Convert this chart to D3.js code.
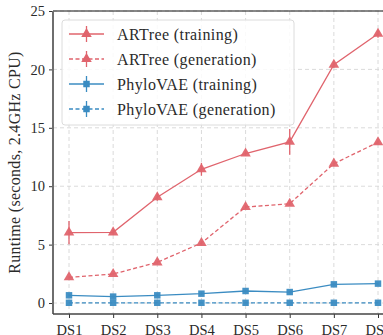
<html>
<head>
<script src="https://d3js.org/d3.v7.min.js"></script>
<style>
  body { margin: 0; background: #fff; }
  text { font-family: "Liberation Serif", "DejaVu Serif", serif; fill: #2a2a2a; }
</style>
</head>
<body>
<script>
var datasets = ["DS1", "DS2", "DS3", "DS4", "DS5", "DS6", "DS7", "DS8"];
var artreeTrain = [6.03, 6.05, 9.05, 11.45, 12.8, 13.8, 20.4, 23.05];
var artreeTrainErr = [1.0, 0.2, 0.3, 0.55, 0.2, 1.1, 0.25, 0.35];
var artreeGen = [2.2, 2.48, 3.48, 5.14, 8.22, 8.5, 11.93, 13.76];
var artreeGenErr = [0.1, 0.1, 0.1, 0.15, 0.15, 0.15, 0.2, 0.15];
var vaeTrain = [0.66, 0.55, 0.66, 0.8, 1.03, 0.94, 1.6, 1.66];
var vaeTrainErr = [0.1, 0.1, 0.1, 0.1, 0.1, 0.1, 0.1, 0.1];
var vaeGen = [0.02, 0.02, 0.02, 0.02, 0.02, 0.02, 0.02, 0.02];
var vaeGenErr = [0.02, 0.02, 0.02, 0.02, 0.02, 0.02, 0.02, 0.02];
var yTicks = [0, 5, 10, 15, 20, 25];

var red = "#e0646d", blue = "#3b8cc2";
var series = [
  {name: "ARTree (training)", v: artreeTrain, e: artreeTrainErr, c: red, dash: null, m: "tri"},
  {name: "ARTree (generation)", v: artreeGen, e: artreeGenErr, c: red, dash: "4,2.5", m: "tri"},
  {name: "PhyloVAE (training)", v: vaeTrain, e: vaeTrainErr, c: blue, dash: null, m: "sq"},
  {name: "PhyloVAE (generation)", v: vaeGen, e: vaeGenErr, c: blue, dash: "4,2.5", m: "sq"}
];

var W = 383, H = 335;
var mL = 53, mR = 394, mT = 11, mB = 314;

var svg = d3.select("body").append("svg").attr("width", W).attr("height", H);

var x = d3.scalePoint().domain(datasets).range([mL + 16, mR - 16]);
var y = d3.scaleLinear().domain([-0.94, 25]).range([mB, mT]);

// grid
svg.append("g").selectAll("line").data(datasets).enter().append("line")
  .attr("x1", d => x(d)).attr("x2", d => x(d)).attr("y1", mT).attr("y2", mB)
  .attr("stroke", "#d6d6d6").attr("stroke-dasharray", "4,3").attr("stroke-width", 0.9);
svg.append("g").selectAll("line").data(yTicks).enter().append("line")
  .attr("x1", mL).attr("x2", mR).attr("y1", d => y(d)).attr("y2", d => y(d))
  .attr("stroke", "#d6d6d6").attr("stroke-dasharray", "4,3").attr("stroke-width", 0.9);

// series
var sym = {tri: d3.symbol().type(d3.symbolTriangle).size(48), sq: d3.symbol().type(d3.symbolSquare).size(42)};
series.forEach(function(s) {
  var g = svg.append("g");
  var line = d3.line().x((d, i) => x(datasets[i])).y(d => y(d));
  g.append("path").attr("d", line(s.v)).attr("fill", "none")
    .attr("stroke", s.c).attr("stroke-width", 1.3).attr("stroke-dasharray", s.dash);
  g.selectAll(".eb").data(s.v).enter().append("line")
    .attr("x1", (d, i) => x(datasets[i])).attr("x2", (d, i) => x(datasets[i]))
    .attr("y1", (d, i) => y(d - s.e[i])).attr("y2", (d, i) => y(d + s.e[i]))
    .attr("stroke", s.c).attr("stroke-width", 1.3);
  g.selectAll(".mk").data(s.v).enter().append("path")
    .attr("d", sym[s.m])
    .attr("transform", (d, i) => "translate(" + x(datasets[i]) + "," + y(d) + ")")
    .attr("fill", s.c).attr("opacity", 0.95);
});

// axes
var yAxis = d3.axisLeft(y).tickValues(yTicks).tickSize(4).tickPadding(4);
var ga = svg.append("g").attr("transform", "translate(" + mL + ",0)").call(yAxis);
var xAxis = d3.axisBottom(x).tickSize(4).tickPadding(3);
var gb = svg.append("g").attr("transform", "translate(0," + mB + ")").call(xAxis);
[ga, gb].forEach(function(g) {
  g.attr("font-family", null);
  g.select(".domain").remove();
  g.selectAll("text").style("font-size", "14.5px").attr("fill", "#2a2a2a");
  g.selectAll("line").attr("stroke", "#333");
});
gb.selectAll("text").attr("dy", "0.95em");

// spines
svg.append("line").attr("x1", mL).attr("x2", mR).attr("y1", mT).attr("y2", mT)
  .attr("stroke", "#111").attr("stroke-width", 1);
svg.append("line").attr("x1", mL).attr("x2", mL).attr("y1", mT).attr("y2", mB)
  .attr("stroke", "#6e6e6e").attr("stroke-width", 2);
svg.append("line").attr("x1", mL).attr("x2", mR).attr("y1", mB).attr("y2", mB)
  .attr("stroke", "#444").attr("stroke-width", 1.6);

// y label
svg.append("text").attr("transform", "translate(20," + ((mT + mB) / 2) + ") rotate(-90)")
  .attr("text-anchor", "middle").style("font-size", "16px").style("letter-spacing", "0.3px")
  .text("Runtime (seconds, 2.4GHz CPU)");

// legend
var lg = svg.append("g");
lg.append("rect").attr("x", 62).attr("y", 20).attr("width", 232).attr("height", 105)
  .attr("rx", 3).attr("fill", "#fff").attr("fill-opacity", 0.85)
  .attr("stroke", "#dcdcdc").attr("stroke-width", 1);
series.forEach(function(s, i) {
  var yy = 34 + i * 25;
  lg.append("line").attr("x1", 69).attr("x2", 104).attr("y1", yy).attr("y2", yy)
    .attr("stroke", s.c).attr("stroke-width", 1.3).attr("stroke-dasharray", s.dash);
  lg.append("line").attr("x1", 86.5).attr("x2", 86.5).attr("y1", yy - 8).attr("y2", yy + 8)
    .attr("stroke", s.c).attr("stroke-width", 1.3);
  lg.append("path").attr("d", sym[s.m]).attr("transform", "translate(86.5," + yy + ")").attr("fill", s.c);
  lg.append("text").attr("x", 117).attr("y", yy).attr("dy", "0.35em")
    .style("font-size", "16px").style("letter-spacing", "0.4px").text(s.name);
});
</script>
</body>
</html>
